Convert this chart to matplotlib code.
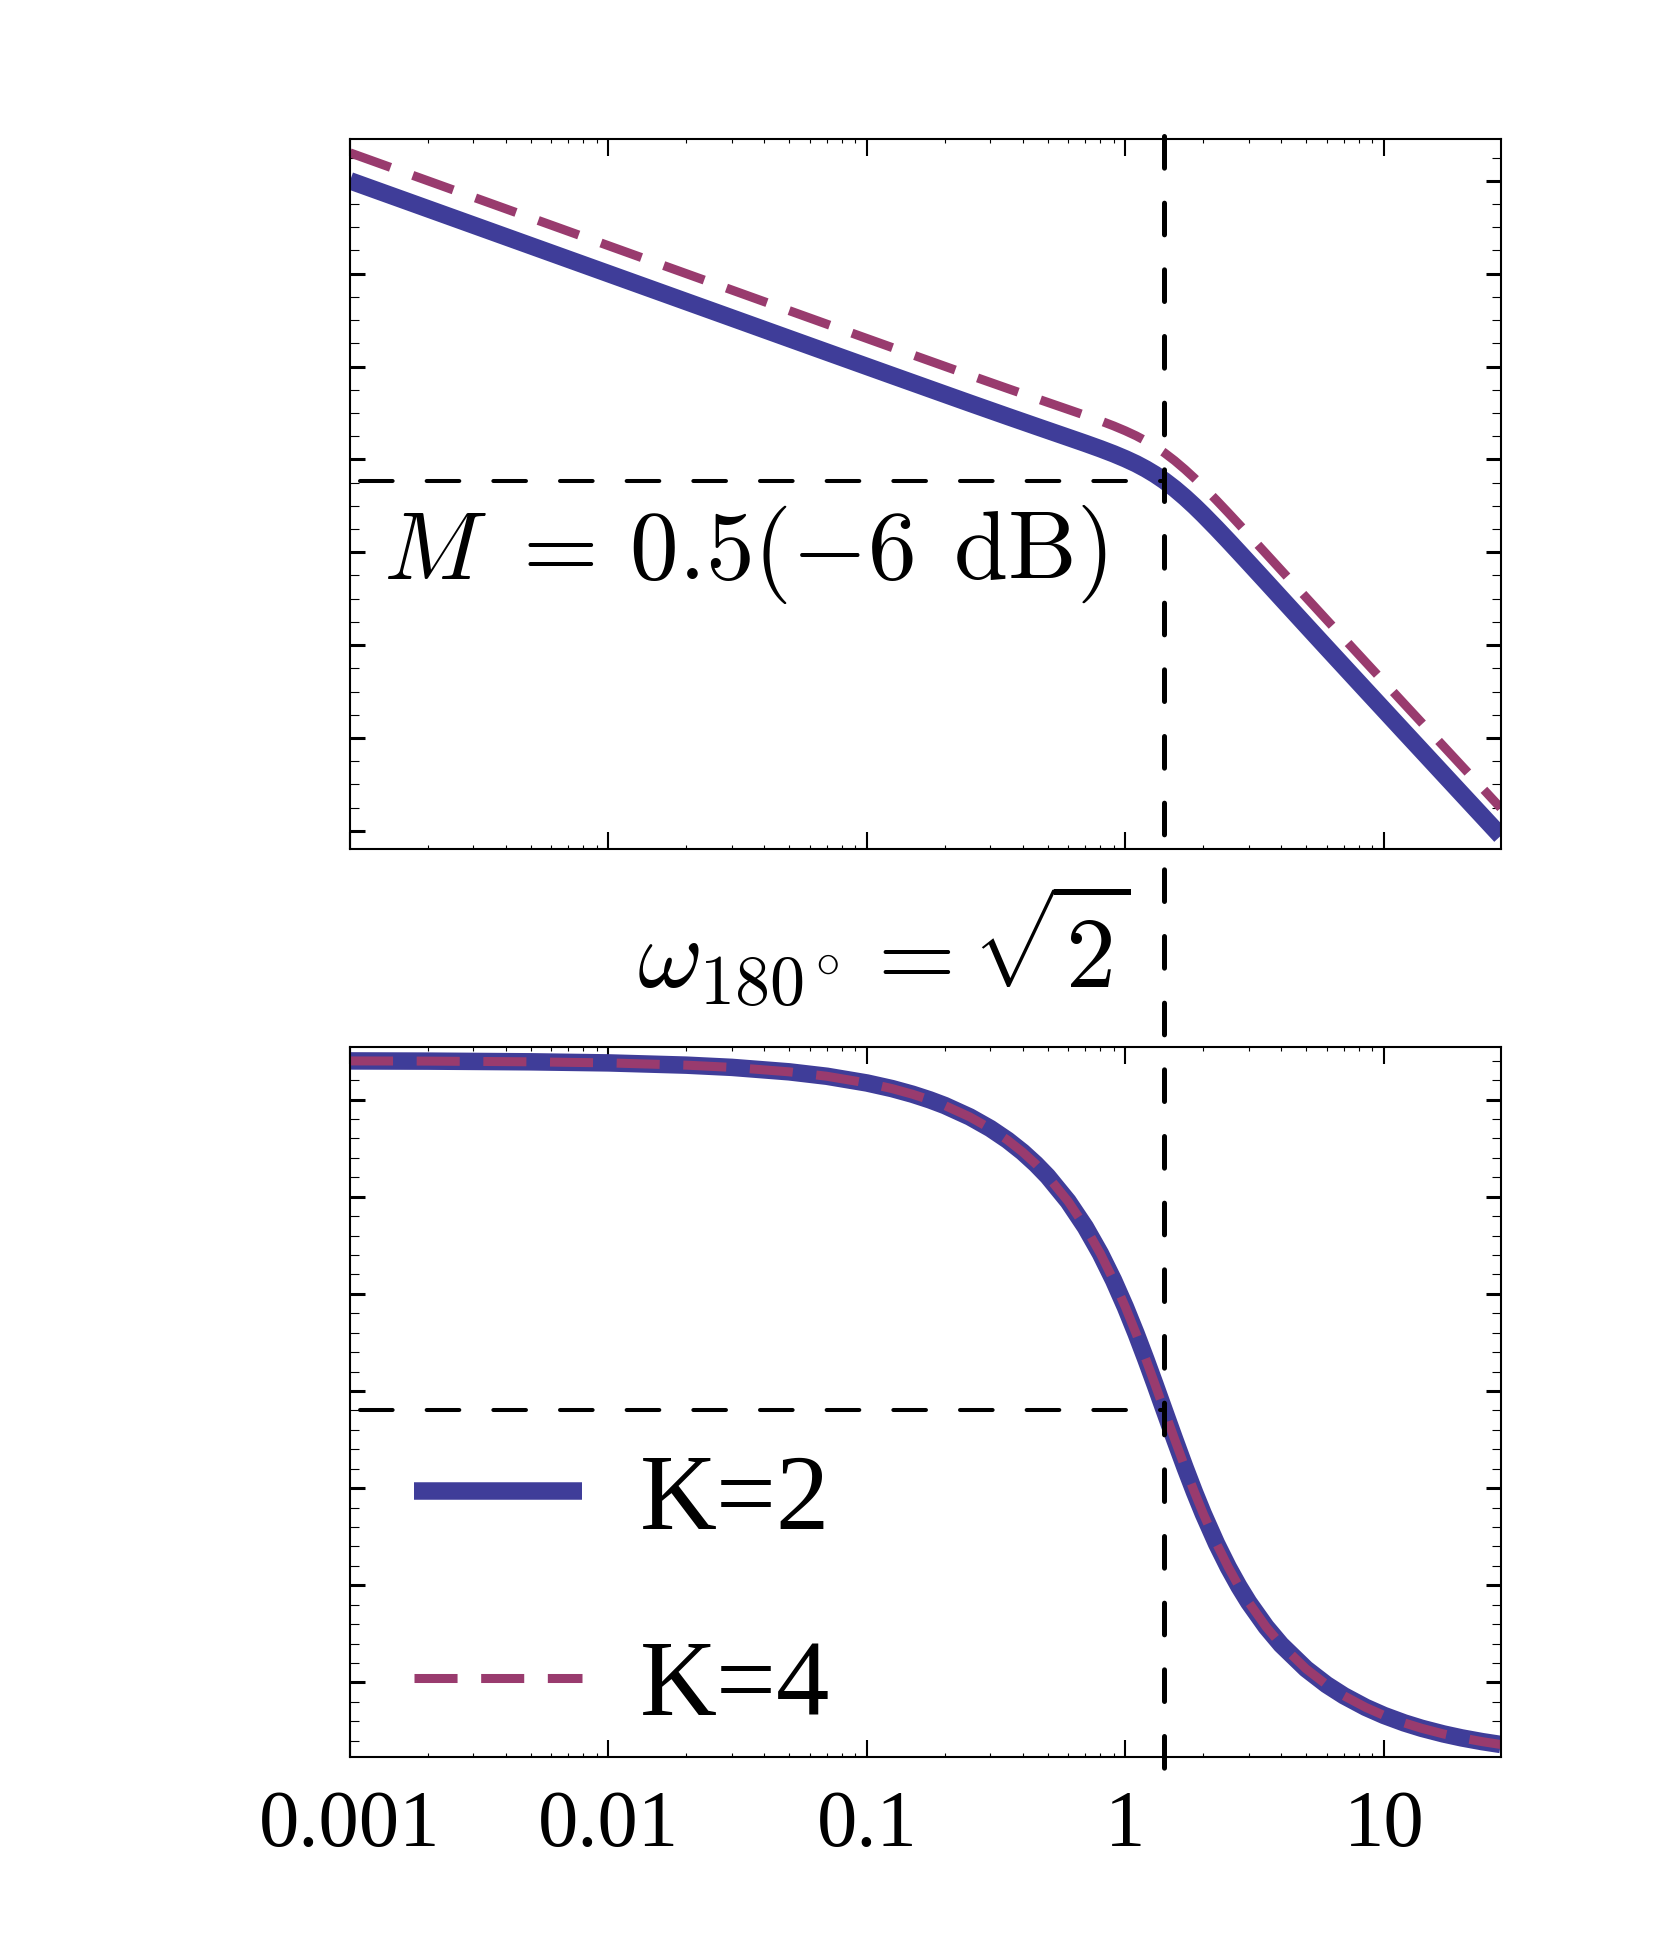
import matplotlib
matplotlib.use("Agg")
import matplotlib.pyplot as plt
import matplotlib.transforms as mtransforms
from matplotlib.lines import Line2D
from matplotlib.ticker import FixedLocator, MultipleLocator, NullFormatter

plt.rcParams['font.family'] = ['Liberation Serif', 'DejaVu Serif']
plt.rcParams['mathtext.fontset'] = 'cm'
plt.rcParams['lines.scale_dashes'] = False

# values
freq = [0.001, 0.002, 0.005, 0.01, 0.02, 0.03, 0.05, 0.07, 0.1, 0.125, 0.15,
        0.175, 0.2, 0.25, 0.3, 0.35, 0.4, 0.45, 0.5, 0.6, 0.7, 0.8, 0.9, 1.0,
        1.1, 1.2, 1.3, 1.414, 1.55, 1.7, 1.85, 2.0, 2.25, 2.5, 2.75, 3.0, 3.5,
        4.0, 5.0, 6.0, 7.0, 8.5, 10, 12, 14, 17, 20, 24, 28.3]
mag_k2 = [60.00, 53.98, 46.02, 40.00, 33.98, 30.46, 26.02, 23.10, 20.01, 18.08,
          16.51, 15.18, 14.03, 12.11, 10.56, 9.25, 8.13, 7.14, 6.26, 4.74, 3.45,
          2.29, 1.20, 0.13, -0.94, -2.06, -3.22, -4.59, -6.29, -8.19, -10.07,
          -11.91, -14.82, -17.51, -19.99, -22.27, -26.33, -29.86, -35.75, -40.55,
          -44.59, -49.68, -53.93, -58.70, -62.72, -67.79, -72.03, -76.78, -81.08]
mag_k4 = [66.02, 60.00, 52.04, 46.02, 40.00, 36.48, 32.04, 29.12, 26.03, 24.10,
          22.53, 21.20, 20.05, 18.13, 16.58, 15.27, 14.15, 13.16, 12.28, 10.76,
          9.47, 8.31, 7.22, 6.15, 5.08, 3.96, 2.80, 1.43, -0.27, -2.17, -4.05,
          -5.89, -8.80, -11.49, -13.97, -16.25, -20.31, -23.84, -29.73, -34.53,
          -38.57, -43.66, -47.91, -52.68, -56.70, -61.77, -66.01, -70.76, -75.06]
phase = [-90.06, -90.11, -90.29, -90.57, -91.15, -91.72, -92.87, -94.01, -95.74,
         -97.18, -98.63, -100.08, -101.53, -104.47, -107.44, -110.45, -113.50,
         -116.60, -119.74, -126.19, -132.84, -139.64, -146.53, -153.43, -160.25,
         -166.87, -173.20, -180.00, -187.40, -194.67, -201.03, -206.57, -214.24,
         -220.36, -225.32, -229.40, -235.67, -240.26, -246.50, -250.56, -253.41,
         -256.40, -258.47, -260.41, -261.79, -263.24, -264.26, -265.22, -265.95]

series_labels = ['K=2', 'K=4']
w180 = 1.4142
mag_level = -4.7
phase_level = -180.0

xtick_vals = [0.001, 0.01, 0.1, 1, 10]
xtick_labels = ['0.001', '0.01', '0.1', '1', '10']
xminor_vals = [m * d for d in [0.001, 0.01, 0.1, 1] for m in range(2, 10)]

blue = '#3F3D99'
red = '#993B6E'

fig = plt.figure(figsize=(16.59, 19.59), dpi=100)
ax1 = fig.add_axes([0.21097, 0.56662, 0.69361, 0.36243])
ax2 = fig.add_axes([0.21097, 0.10286, 0.69361, 0.36284])

# magnitude
ax1.plot(freq, mag_k2, color=blue, lw=12.6, solid_capstyle='butt')
ax1.plot(freq, mag_k4, color=red, lw=6.5, linestyle=(0, (31, 17)),
         dash_capstyle='butt')
ax1.plot([freq[0], w180], [mag_level, mag_level], color='black', lw=2.9,
         linestyle=(40.8, (23.5, 24.5)), dash_capstyle='round', zorder=3)
ax1.set_ylim(-83.9, 69.0)
ax1.yaxis.set_major_locator(MultipleLocator(20))
ax1.yaxis.set_minor_locator(MultipleLocator(5))

# phase
l1, = ax2.plot(freq, phase, color=blue, lw=12.6, solid_capstyle='butt',
               label=series_labels[0])
l2, = ax2.plot(freq, phase, color=red, lw=6.5, linestyle=(0, (31, 17)),
               dash_capstyle='butt', label=series_labels[1])
ax2.plot([freq[0], w180], [phase_level, phase_level], color='black', lw=2.9,
         linestyle=(40.8, (23.5, 24.5)), dash_capstyle='round', zorder=3)
ax2.set_ylim(-269.3, -86.4)
ax2.yaxis.set_major_locator(MultipleLocator(25))
ax2.yaxis.set_minor_locator(MultipleLocator(5))

for ax in (ax1, ax2):
    ax.set_xscale('log')
    ax.set_xlim(0.001, 28.3)
    ax.xaxis.set_major_locator(FixedLocator(xtick_vals))
    ax.xaxis.set_minor_locator(FixedLocator(xminor_vals))
    ax.xaxis.set_minor_formatter(NullFormatter())
    ax.tick_params(axis='x', which='major', direction='in', top=True,
                   bottom=True, length=12, width=1.5)
    ax.tick_params(axis='x', which='minor', direction='in', top=True,
                   bottom=True, length=3, width=0.8)
    ax.tick_params(axis='y', which='major', direction='in', left=True,
                   right=True, length=10.8, width=2.2, labelleft=False)
    ax.tick_params(axis='y', which='minor', direction='in', left=True,
                   right=True, length=6.5, width=0.8)
    for s in ax.spines.values():
        s.set_linewidth(1.5)

ax1.tick_params(axis='x', labelbottom=False)
ax2.set_xticks(xtick_vals)
ax2.set_xticklabels(xtick_labels)
ax2.tick_params(axis='x', which='major', labelsize=58, pad=23.4)

# vertical marker through both panels
trans = mtransforms.blended_transform_factory(ax1.transData, fig.transFigure)
vline = Line2D([w180, w180], [0.9308, 0.0977], transform=trans, color='black',
               lw=3.6, linestyle=(0, (22.8, 25.2)), dash_capstyle='round',
               zorder=5)
fig.add_artist(vline)

ax1.text(0.029, 0.380, r'$M\ =\,0.5(-6\;\,\mathrm{dB})$', transform=ax1.transAxes,
         ha='left', va='baseline', fontsize=70)
fig.text(0.384, 0.4959, r'$\omega_{180^\circ} = \sqrt{2}$', ha='left',
         va='baseline', fontsize=72)

ax2.legend(handles=[l1, l2], loc='lower left', bbox_to_anchor=(0.0556, 0.0274),
           frameon=False, fontsize=76.7, handlelength=1.577,
           handletextpad=0.545, labelspacing=0.83, borderpad=0,
           borderaxespad=0)

fig.savefig('out.png', dpi=100)
